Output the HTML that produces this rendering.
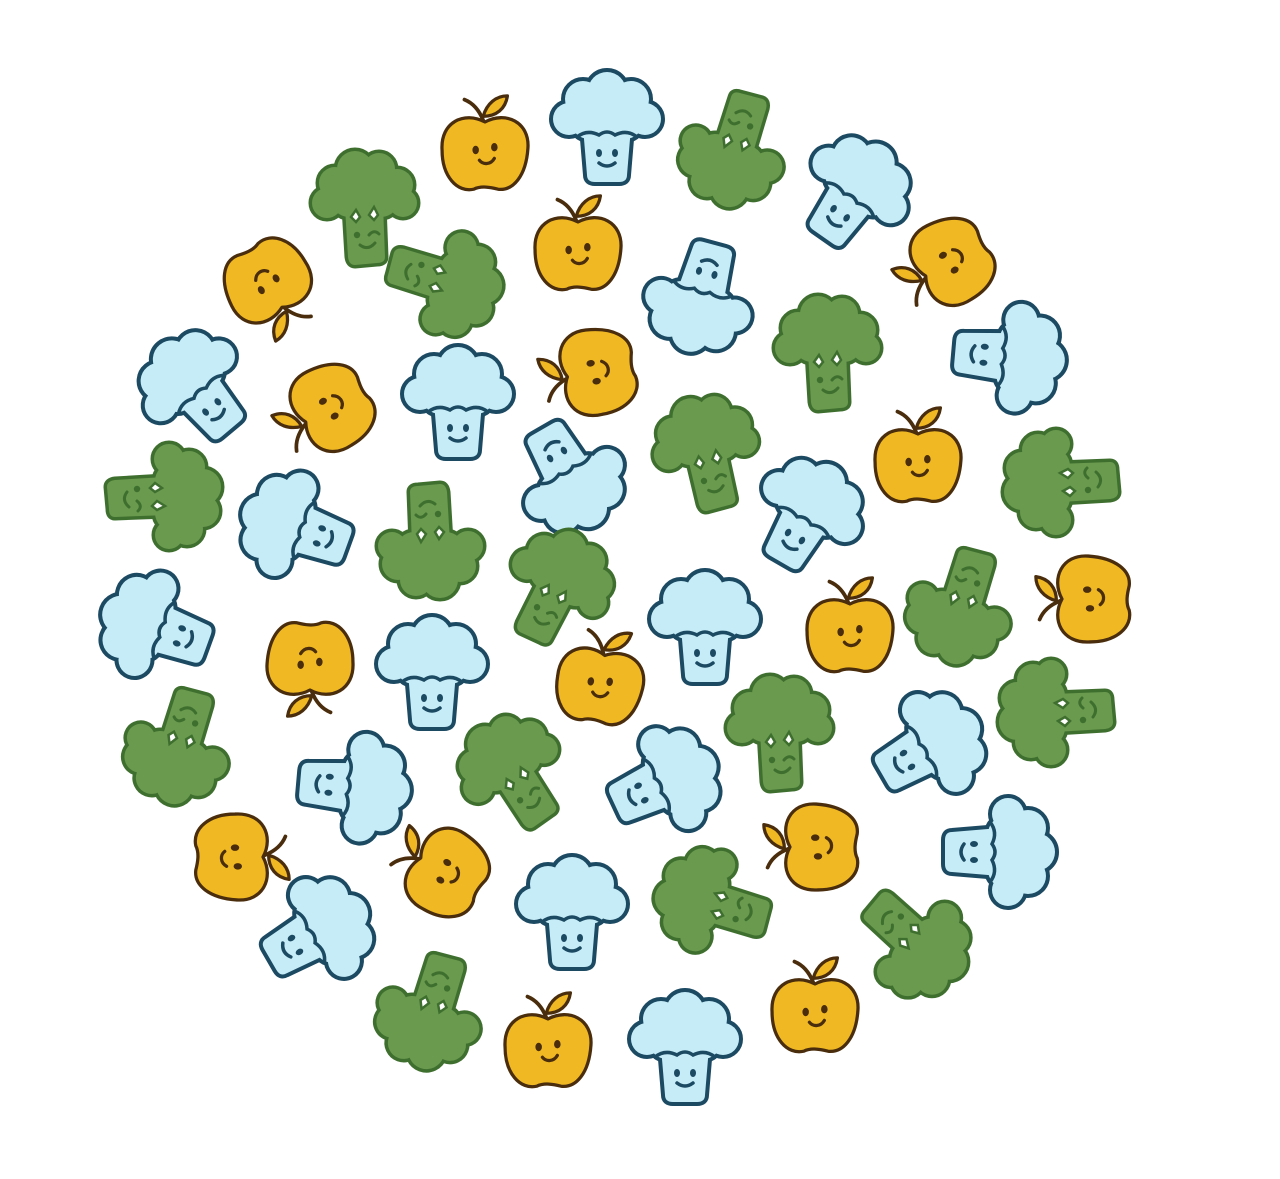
<!DOCTYPE html>
<html><head><meta charset="utf-8">
<style>
html,body{margin:0;padding:0;background:#fff;}
svg{display:block;}
</style></head>
<body>
<svg id="chart" width="1280" height="1179" viewBox="0 0 1280 1179" xmlns="http://www.w3.org/2000/svg">
<defs>
  <symbol id="apple" viewBox="-60 -60 120 120" overflow="visible">
    <path d="M-2,-32 C-6,-42 -12,-50 -22,-54" fill="none" stroke="#4a2d0c" stroke-width="4" stroke-linecap="round"/>
    <path d="M-2,-36 C2,-50 12,-58 24,-58 C22,-44 12,-36 -2,-36 Z" fill="#F0B923" stroke="#4a2d0c" stroke-width="3.5" stroke-linejoin="round"/>
    <path d="M0,-30 C22,-42 48,-30 46,-2 C44,28 30,44 14,42 C6,40 -4,38 -12,42 C-30,46 -46,28 -46,0 C-48,-30 -22,-42 0,-30 Z" fill="#F0B923" stroke="#4a2d0c" stroke-width="3.5" stroke-linejoin="round"/>
    <ellipse cx="-10" cy="0" rx="3.5" ry="4.5" fill="#4a2d0c"/>
    <ellipse cx="10" cy="-3" rx="3.5" ry="4.5" fill="#4a2d0c"/>
    <path d="M-6,11 C-2,16 6,16 10,9" fill="none" stroke="#4a2d0c" stroke-width="3.5" stroke-linecap="round"/>
  </symbol>
  <symbol id="cauli" viewBox="-60 -60 120 120" overflow="visible">
    <g stroke="#1c4a63" stroke-width="8" fill="#1c4a63">
      <path d="M-24,0 L24,0 L20,48 Q20,55 12,55 L-12,55 Q-20,55 -20,48 Z" stroke-linejoin="round"/>
      <circle cx="-38" cy="-8" r="16"/><circle cx="-24" cy="-28" r="18"/><circle cx="0" cy="-36" r="19"/>
      <circle cx="24" cy="-28" r="18"/><circle cx="38" cy="-8" r="16"/><circle cx="-18" cy="-6" r="18"/>
      <circle cx="18" cy="-6" r="18"/><circle cx="0" cy="-14" r="20"/>
    </g>
    <g fill="#C6ECF7">
      <path d="M-24,0 L24,0 L20,48 Q20,55 12,55 L-12,55 Q-20,55 -20,48 Z"/>
      <circle cx="-38" cy="-8" r="16"/><circle cx="-24" cy="-28" r="18"/><circle cx="0" cy="-36" r="19"/>
      <circle cx="24" cy="-28" r="18"/><circle cx="38" cy="-8" r="16"/><circle cx="-18" cy="-6" r="18"/>
      <circle cx="18" cy="-6" r="18"/><circle cx="0" cy="-14" r="20"/>
    </g>
    <path d="M-30,10 Q-20,2 -8,8 Q0,2 8,8 Q20,2 30,10" fill="none" stroke="#1c4a63" stroke-width="3.5" stroke-linecap="round"/>
    <ellipse cx="-8" cy="26" rx="3" ry="4" fill="#1c4a63"/>
    <ellipse cx="8" cy="26" rx="3" ry="4" fill="#1c4a63"/>
    <path d="M-8,36 Q0,42 8,36" fill="none" stroke="#1c4a63" stroke-width="3.5" stroke-linecap="round"/>
  </symbol>
  <symbol id="brocc" viewBox="-60 -60 120 120" overflow="visible">
    <g stroke="#3f6f2f" stroke-width="7" fill="#3f6f2f">
      <path d="M-20,0 L18,-2 L20,50 Q20,56 12,56 L-10,58 Q-16,58 -17,50 Z" stroke-linejoin="round"/>
      <circle cx="-38" cy="-4" r="15"/><circle cx="-30" cy="-24" r="16"/><circle cx="-10" cy="-38" r="18"/>
      <circle cx="14" cy="-38" r="16"/><circle cx="32" cy="-22" r="16"/><circle cx="38" cy="-4" r="14"/>
      <circle cx="-16" cy="-8" r="18"/><circle cx="16" cy="-8" r="18"/><circle cx="0" cy="-20" r="20"/>
    </g>
    <g fill="#6A9A4E">
      <path d="M-20,0 L18,-2 L20,50 Q20,56 12,56 L-10,58 Q-16,58 -17,50 Z"/>
      <circle cx="-38" cy="-4" r="15"/><circle cx="-30" cy="-24" r="16"/><circle cx="-10" cy="-38" r="18"/>
      <circle cx="14" cy="-38" r="16"/><circle cx="32" cy="-22" r="16"/><circle cx="38" cy="-4" r="14"/>
      <circle cx="-16" cy="-8" r="18"/><circle cx="16" cy="-8" r="18"/><circle cx="0" cy="-20" r="20"/>
    </g>
    <path d="M-14,10 L-9,3 L-5,10 L-9,15 Z" fill="#fff" stroke="#3f6f2f" stroke-width="2.5"/>
    <path d="M4,8 L9,0 L13,8 L9,13 Z" fill="#fff" stroke="#3f6f2f" stroke-width="2.5"/>
    <circle cx="-8" cy="28" r="3.2" fill="#3f6f2f"/>
    <path d="M4,28 Q9,22 14,27" fill="none" stroke="#3f6f2f" stroke-width="3" stroke-linecap="round"/>
    <path d="M-5,38 Q3,44 10,36" fill="none" stroke="#3f6f2f" stroke-width="3" stroke-linecap="round"/>
  </symbol>
</defs>
<g id="icons"></g>
</svg>
<script>
const types = ["apple","cauli","brocc","cauli","brocc","apple","apple","brocc","cauli","apple","brocc","cauli","cauli","apple","cauli","apple","cauli","brocc","apple","brocc","brocc","cauli","brocc","cauli","brocc","apple","brocc","cauli","apple","cauli","apple","cauli","apple","brocc","brocc","brocc","cauli","brocc","cauli","cauli","apple","apple","apple","cauli","cauli","brocc","cauli","brocc","brocc","apple","cauli","apple"];
const xs = [485,607,733,855,365,268,578,445,700,950,828,1010,195,330,458,595,570,707,918,1060,165,295,430,808,558,1090,960,155,310,705,850,432,600,178,1055,780,355,513,665,930,235,445,818,1000,572,712,318,915,430,548,685,815];
const ys = [150,127,150,192,207,283,250,282,298,262,352,357,387,408,402,372,477,452,462,482,497,527,542,514,587,599,607,627,662,627,632,672,683,747,712,732,787,772,782,747,857,872,847,852,912,902,932,942,1012,1047,1047,1012];
const rots = [0,0,200,35,0,150,0,110,195,-120,0,95,-40,-120,0,-100,150,-10,0,-90,90,-70,180,30,30,-90,200,-70,180,0,0,0,10,200,-90,0,95,-30,65,60,90,-60,-90,90,0,-70,60,135,200,0,0,0];

const g = document.getElementById('icons');
const NS = 'http://www.w3.org/2000/svg';
const sizes = {apple:112, cauli:120, brocc:120};
const names = {apple:'apple-icon', cauli:'cauliflower-icon', brocc:'broccoli-icon'};
for (let i = 0; i < types.length; i++) {
  const u = document.createElementNS(NS, 'use');
  const s = sizes[types[i]];
  u.setAttribute('href', '#' + types[i]);
  u.setAttribute('x', -s/2);
  u.setAttribute('y', -s/2);
  u.setAttribute('width', s);
  u.setAttribute('height', s);
  u.setAttribute('transform', 'translate(' + xs[i] + ',' + ys[i] + ') rotate(' + rots[i] + ')');
  
  
  g.appendChild(u);
}
</script>
</body></html>
